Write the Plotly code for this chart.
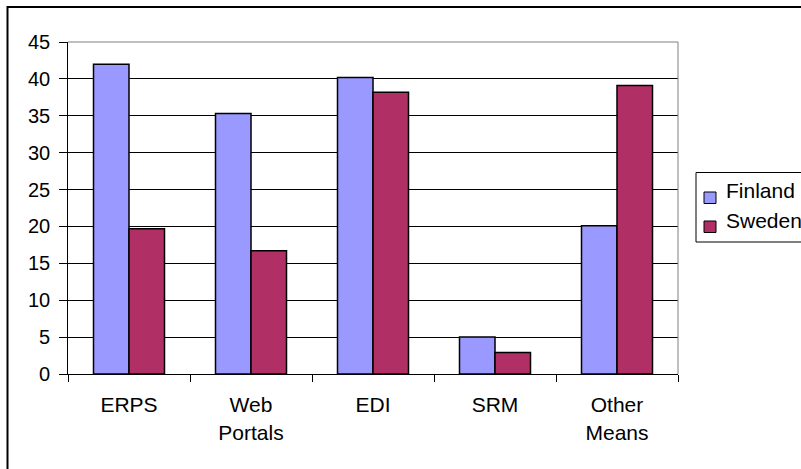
import plotly.graph_objects as go

# Data
categories = ["ERPS", "Web<br>Portals", "EDI", "SRM", "Other<br>Means"]
finland = [42.0, 35.3, 40.2, 5.0, 20.1]
sweden = [19.7, 16.7, 38.2, 2.9, 39.1]
series_names = ["Finland", "Sweden"]
y_ticks = [0, 5, 10, 15, 20, 25, 30, 35, 40, 45]

colors = ["#9999FF", "#B03066"]
FONT = "Liberation Sans, Arial, sans-serif"

W, H = 801, 469
L, R, T, B = 68, 678, 42, 374  # plot area in pixels


def px_x(x):
    return (x - L) / (R - L)


def px_y(y):
    return (B - y) / (B - T)


fig = go.Figure()
for name, vals, col in zip(series_names, [finland, sweden], colors):
    fig.add_trace(go.Bar(
        x=categories, y=vals, name=name,
        marker=dict(color=col, line=dict(color="#000000", width=1.5)),
        showlegend=False,
    ))

shapes = []
# outer chart border
shapes.append(dict(type="rect", xref="paper", yref="paper",
                   x0=px_x(7.5), x1=px_x(815), y0=px_y(7), y1=px_y(480),
                   line=dict(color="#000000", width=2), layer="above"))
# plot area top / right edges
shapes.append(dict(type="line", xref="paper", yref="paper",
                   x0=0, x1=1, y0=1, y1=1,
                   line=dict(color="#808080", width=1), layer="above"))
shapes.append(dict(type="line", xref="paper", yref="paper",
                   x0=1, x1=1, y0=0, y1=1,
                   line=dict(color="#808080", width=1), layer="above"))
# legend box
shapes.append(dict(type="rect", xref="paper", yref="paper",
                   x0=px_x(696), x1=px_x(815), y0=px_y(172.5), y1=px_y(242),
                   line=dict(color="#000000", width=1), fillcolor="white",
                   layer="above"))

annotations = []
marker_tops = [192, 221]
text_mid = [190.5, 220.5]
for name, col, mt, tm in zip(series_names, colors, marker_tops, text_mid):
    shapes.append(dict(type="rect", xref="paper", yref="paper",
                       x0=px_x(704), x1=px_x(716), y0=px_y(mt), y1=px_y(mt + 11.5),
                       line=dict(color="#000000", width=1), fillcolor=col,
                       layer="above"))
    annotations.append(dict(text=name, xref="paper", yref="paper",
                            x=px_x(724), y=px_y(tm), xanchor="left",
                            yanchor="middle", showarrow=False,
                            font=dict(family=FONT, size=21, color="#000000")))

# value-axis labels, placed on the y scale and set back from the tick marks
for v in y_ticks:
    annotations.append(dict(text=str(v), xref="paper", yref="y",
                            x=px_x(52), y=v, xanchor="right",
                            yanchor="middle", showarrow=False,
                            font=dict(family=FONT, size=20, color="#000000")))

fig.update_layout(
    width=W, height=H,
    margin=dict(l=L, r=W - R, t=T, b=H - B, pad=0),
    paper_bgcolor="white", plot_bgcolor="white",
    barmode="group", bargap=0.418, bargroupgap=0,
    font=dict(family=FONT, size=21, color="#000000"),
    shapes=shapes, annotations=annotations,
    xaxis=dict(
        showline=True, linecolor="#000000", linewidth=1,
        ticks="outside", tickson="boundaries", ticklen=7,
        tickcolor="#000000", tickwidth=1,
        showgrid=False, tickfont=dict(size=21),
        ticklabelstandoff=12,
    ),
    yaxis=dict(
        range=[0, 45], tickvals=y_ticks,
        showline=True, linecolor="#000000", linewidth=1,
        ticks="outside", ticklen=8, tickcolor="#000000", tickwidth=1,
        showgrid=True, gridcolor="#000000", gridwidth=1,
        zeroline=False, showticklabels=False,
    ),
)

fig.write_html("out.html")
